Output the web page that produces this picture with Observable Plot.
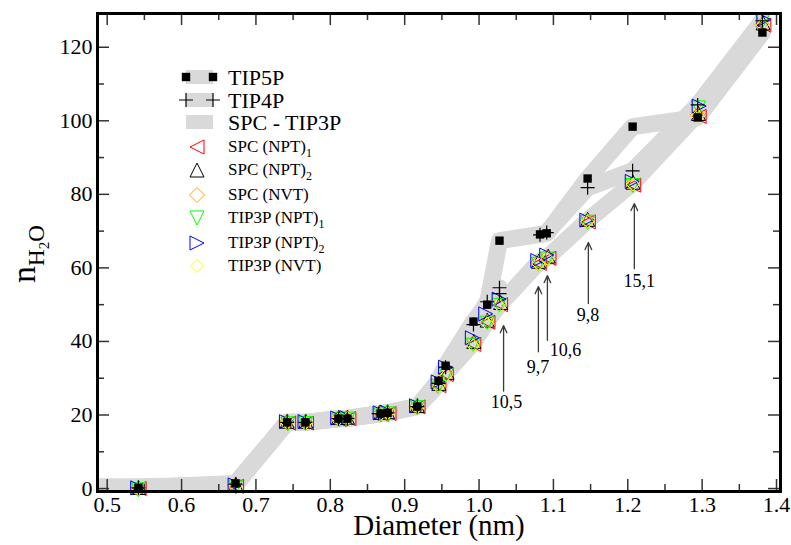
<!DOCTYPE html>
<html>
<head>
<meta charset="utf-8">
<script src="https://cdn.jsdelivr.net/npm/d3@7"></script>
<script src="https://cdn.jsdelivr.net/npm/@observablehq/plot@0.6"></script>
<style>
  body { margin: 0; background: #fff; }
  #chart svg { display: block; }
</style>
</head>
<body>
<div id="chart"></div>
<script>
// ---- Cluster diameters (nm) and water counts ----
// SPC - TIP3P reference band
const bandD = [0.48, 0.542, 0.6725, 0.742, 0.7665, 0.811, 0.823, 0.8675, 0.877, 0.917, 0.9455, 0.955, 0.9925, 1.011, 1.0275, 1.080, 1.092, 1.146, 1.2065, 1.294, 1.381];
const bandN = [0.5, 0.5, 1.0, 18.0, 18.0, 19.0, 19.2, 20.3, 20.6, 22.3, 28.3, 31.3, 39.7, 45.5, 50.0, 61.5, 62.8, 72.9, 83.0, 101.9, 126.5];

// TIP5P
const tip5pD = [0.542, 0.6725, 0.742, 0.7665, 0.811, 0.823, 0.8675, 0.877, 0.917, 0.9455, 0.955, 0.9925, 1.011, 1.0275, 1.082, 1.091, 1.146, 1.2065, 1.294, 1.381];
const tip5pN = [0.2, 1.4, 18.0, 18.0, 19.0, 19.0, 20.4, 20.6, 22.3, 29.3, 33.4, 45.4, 50.0, 67.4, 69.1, 69.4, 84.3, 98.4, 100.9, 124.0];

// TIP4P
const tip4pD = [0.542, 0.6725, 0.742, 0.7665, 0.811, 0.823, 0.865, 0.877, 0.917, 0.9455, 0.955, 0.9925, 1.011, 1.0275, 1.0275, 1.082, 1.091, 1.146, 1.2065, 1.294, 1.381];
const tip4pN = [0.2, 1.2, 18.0, 18.0, 19.0, 19.0, 20.4, 20.6, 22.3, 28.6, 33.0, 44.6, 50.8, 53.0, 54.6, 69.0, 69.6, 81.8, 86.4, 104.3, 127.2];

// SPC (NPT)1
const spcNpt1D = [0.543, 0.674, 0.744, 0.768, 0.812, 0.825, 0.869, 0.879, 0.918, 0.946, 0.956, 0.993, 1.012, 1.029, 1.081, 1.094, 1.147, 1.208, 1.296, 1.383];
const spcNpt1N = [0.0, 0.6, 17.8, 17.8, 18.8, 19.0, 20.2, 20.4, 22.2, 28.0, 31.0, 39.2, 45.2, 50.0, 61.2, 62.6, 72.5, 82.5, 101.2, 126.0];
// SPC (NPT)2
const spcNpt2D = [0.542, 0.673, 0.742, 0.767, 0.811, 0.823, 0.868, 0.877, 0.917, 0.946, 0.957, 0.993, 1.011, 1.029, 1.080, 1.093, 1.146, 1.207, 1.295, 1.382];
const spcNpt2N = [0.3, 1.2, 18.3, 18.3, 19.3, 19.4, 20.7, 20.9, 22.6, 28.6, 31.6, 40.0, 45.8, 50.6, 61.8, 63.2, 73.2, 83.3, 102.0, 126.6];
// SPC (NVT)
const spcNvtD = [0.541, 0.672, 0.741, 0.766, 0.810, 0.822, 0.867, 0.876, 0.916, 0.944, 0.955, 0.991, 1.010, 1.026, 1.079, 1.091, 1.145, 1.206, 1.294, 1.380];
const spcNvtN = [0.0, 0.8, 18.0, 18.0, 19.0, 19.2, 20.4, 20.6, 22.3, 28.2, 31.2, 39.4, 45.3, 50.2, 61.4, 62.8, 72.8, 82.8, 101.6, 126.2];
// TIP3P (NPT)1
const tip3pNpt1D = [0.542, 0.673, 0.743, 0.767, 0.812, 0.824, 0.868, 0.878, 0.917, 0.945, 0.956, 0.992, 1.011, 1.027, 1.080, 1.092, 1.146, 1.207, 1.295, 1.381];
const tip3pNpt1N = [-0.3, 0.4, 17.6, 17.7, 18.7, 18.9, 20.0, 20.3, 22.0, 27.8, 31.0, 39.0, 45.0, 49.8, 61.0, 62.4, 72.4, 82.4, 103.5, 127.0];
// TIP3P (NPT)2
const tip3pNpt2D = [0.541, 0.672, 0.741, 0.766, 0.810, 0.822, 0.867, 0.876, 0.916, 0.945, 0.955, 0.991, 1.009, 1.027, 1.079, 1.091, 1.145, 1.206, 1.296, 1.383];
const tip3pNpt2N = [0.2, 1.0, 18.2, 18.2, 19.2, 19.3, 20.6, 20.8, 22.5, 29.0, 33.0, 41.0, 47.5, 51.5, 62.0, 63.5, 73.0, 83.5, 104.0, 127.5];
// TIP3P (NVT)
const tip3pNvtD = [0.542, 0.673, 0.742, 0.767, 0.811, 0.823, 0.868, 0.877, 0.917, 0.946, 0.956, 0.992, 1.011, 1.028, 1.080, 1.092, 1.146, 1.207, 1.294, 1.381];
const tip3pNvtN = [0.0, 0.7, 17.9, 17.9, 18.9, 19.1, 20.3, 20.5, 22.2, 27.9, 30.8, 38.8, 44.8, 49.6, 61.0, 62.5, 72.6, 82.7, 101.3, 126.0];

// Annotated clusters
const annotLabels = ["10,5", "9,7", "10,6", "9,8", "15,1"];
const arrowD = [1.033, 1.0798, 1.0919, 1.147, 1.2088];
const arrowTip = [44.3, 54.9, 57.9, 66.9, 77.5];
const arrowTail = [26.5, 37.2, 40.3, 50.3, 59.8];
const labelD = [1.0369, 1.0793, 1.1162, 1.1465, 1.2153];
const labelN = [23.5, 32.9, 37.5, 47.0, 56.3];

// Axis ticks
const xMajor = [0.5, 0.6, 0.7, 0.8, 0.9, 1.0, 1.1, 1.2, 1.3, 1.4];
const xMinor = [0.55, 0.65, 0.75, 0.85, 0.95, 1.05, 1.15, 1.25, 1.35];
const yMajor = [0, 20, 40, 60, 80, 100, 120];
const yMinor = [10, 30, 50, 70, 90, 110];

// ---- Marker shapes ----
const rad = size => Math.sqrt(size / Math.PI);
const triangleLeft  = {draw(c, z) { const s = rad(z); c.moveTo(-s, 0); c.lineTo(s, -s); c.lineTo(s, s); c.closePath(); }};
const triangleRight = {draw(c, z) { const s = rad(z); c.moveTo(s, 0); c.lineTo(-s, -s); c.lineTo(-s, s); c.closePath(); }};
const triangleUp    = {draw(c, z) { const s = rad(z); c.moveTo(0, -s); c.lineTo(s, s); c.lineTo(-s, s); c.closePath(); }};
const triangleDown  = {draw(c, z) { const s = rad(z); c.moveTo(0, s); c.lineTo(s, -s); c.lineTo(-s, -s); c.closePath(); }};
const diamond       = {draw(c, z) { const s = rad(z); c.moveTo(0, -s); c.lineTo(s, 0); c.lineTo(0, s); c.lineTo(-s, 0); c.closePath(); }};
const square        = {draw(c, z) { const s = rad(z); c.rect(-s, -s, 2 * s, 2 * s); }};
const plus          = {draw(c, z) { const s = rad(z); c.moveTo(-s, 0); c.lineTo(s, 0); c.moveTo(0, -s); c.lineTo(0, s); }};

const rows = (ds, ns) => ds.map((d, i) => ({d, n: ns[i]}));

const coloured = [
  {name: "SPC (NPT)", sub: "1", color: "#ff0000", symbol: triangleLeft, r: 7, data: rows(spcNpt1D, spcNpt1N)},
  {name: "SPC (NPT)", sub: "2", color: "#000000", symbol: triangleUp, r: 7, data: rows(spcNpt2D, spcNpt2N)},
  {name: "SPC (NVT)", sub: "", color: "#ffa500", symbol: diamond, r: 7.5, data: rows(spcNvtD, spcNvtN)},
  {name: "TIP3P (NPT)", sub: "1", color: "#00ff00", symbol: triangleDown, r: 7, data: rows(tip3pNpt1D, tip3pNpt1N)},
  {name: "TIP3P (NPT)", sub: "2", color: "#0000ff", symbol: triangleRight, r: 7, data: rows(tip3pNpt2D, tip3pNpt2N)},
  {name: "TIP3P (NVT)", sub: "", color: "#ffff00", symbol: diamond, r: 6.5, data: rows(tip3pNvtD, tip3pNvtN)}
];

const band = rows(bandD, bandN);
const tip5p = rows(tip5pD, tip5pN);
const tip4p = rows(tip4pD, tip4pN);
const annots = annotLabels.map((label, i) => ({label, x: arrowD[i], tip: arrowTip[i], tail: arrowTail[i], lx: labelD[i], ly: labelN[i]}));

const W = 791, H = 545;
const mTop = 13, mBottom = 54, mLeft = 97, mRight = 11;
const innerH = H - mTop - mBottom;
const innerW = W - mLeft - mRight;
const serif = "'Liberation Serif', 'Times New Roman', serif";
const grey = "#d9d9d9";
const bandWidth = 17;
const tickCol = "#333";

const chart = Plot.plot({
  width: W,
  height: H,
  marginTop: mTop,
  marginBottom: mBottom,
  marginLeft: mLeft,
  marginRight: mRight,
  style: {fontFamily: serif, background: "#fff", color: "#000"},
  x: {domain: [0.48696, 1.40535]},
  y: {domain: [-0.8, 129.17]},
  marks: [
    // thick grey guide bands
    Plot.line(band, {x: "d", y: "n", stroke: grey, strokeWidth: bandWidth, strokeLinejoin: "round", clip: "frame"}),
    Plot.line(tip5p, {x: "d", y: "n", stroke: grey, strokeWidth: bandWidth, strokeLinejoin: "round", clip: "frame"}),
    Plot.line(tip4p.slice(0, 15), {x: "d", y: "n", stroke: grey, strokeWidth: bandWidth, strokeLinejoin: "round", clip: "frame"}),
    Plot.line(tip4p.slice(15), {x: "d", y: "n", stroke: grey, strokeWidth: bandWidth, strokeLinejoin: "round", clip: "frame"}),
    // SPC / TIP3P runs
    ...coloured.map(s => Plot.dot(s.data, {x: "d", y: "n", symbol: s.symbol, r: s.r, fill: "none", stroke: s.color, strokeWidth: 1})),
    // TIP5P and TIP4P
    Plot.dot(tip5p, {x: "d", y: "n", symbol: square, r: 4.2, fill: "#000", stroke: "none"}),
    Plot.dot(tip4p, {x: "d", y: "n", symbol: plus, r: 7, fill: "none", stroke: "#000", strokeWidth: 1.2}),
    // cluster annotations
    Plot.arrow(annots, {x1: "x", y1: "tail", x2: "x", y2: "tip", stroke: "#3a3a3a", strokeWidth: 1.3, headLength: 9, headAngle: 50}),
    Plot.text(annots, {x: "lx", y: "ly", text: "label", fontSize: 18, fontFamily: serif, fill: "#000"}),
    // inward ticks on all four sides
    Plot.tickX(xMajor, {insetTop: innerH - 12, stroke: tickCol, strokeWidth: 1.5}),
    Plot.tickX(xMajor, {insetBottom: innerH - 12, stroke: tickCol, strokeWidth: 1.5}),
    Plot.tickX(xMinor, {insetTop: innerH - 7, stroke: tickCol, strokeWidth: 1.5}),
    Plot.tickX(xMinor, {insetBottom: innerH - 7, stroke: tickCol, strokeWidth: 1.5}),
    Plot.tickY(yMajor, {insetRight: innerW - 12, stroke: tickCol, strokeWidth: 1.5}),
    Plot.tickY(yMajor, {insetLeft: innerW - 12, stroke: tickCol, strokeWidth: 1.5}),
    Plot.tickY(yMinor, {insetRight: innerW - 7, stroke: tickCol, strokeWidth: 1.5}),
    Plot.tickY(yMinor, {insetLeft: innerW - 7, stroke: tickCol, strokeWidth: 1.5}),
    // tick labels
    Plot.axisX({ticks: xMajor, tickSize: 0, tickPadding: 5, tickFormat: d => d.toFixed(1), fontSize: 22, label: null}),
    Plot.axisY({ticks: yMajor, tickSize: 0, tickPadding: 5, tickFormat: d => String(d), fontSize: 22, label: null}),
    Plot.text(["Diameter (nm)"], {frameAnchor: "bottom", dy: 43, fontSize: 29, fontFamily: serif, fill: "#000"}),
    Plot.frame({stroke: "#000", strokeWidth: 3})
  ]
});

document.getElementById("chart").appendChild(chart);

const svg = d3.select(chart);

// y-axis title: n with subscript H2O
const yt = svg.append("text")
  .attr("transform", "translate(35,254) rotate(-90)")
  .attr("text-anchor", "middle")
  .attr("font-family", serif)
  .attr("fill", "#000");
yt.append("tspan").attr("font-size", 34).text("n");
yt.append("tspan").attr("font-size", 23).attr("dy", 9).text("H");
yt.append("tspan").attr("font-size", 15).attr("dy", 5).text("2");
yt.append("tspan").attr("font-size", 23).attr("dy", -5).text("O");

// legend
const lg = svg.append("g")
  .attr("font-family", serif)
  .attr("text-anchor", "start")
  .attr("fill", "#000");
const sym = (s, r) => d3.symbol().type(s).size(Math.PI * r * r)();

const bandEntries = [
  {label: "TIP5P", marker: "square", y: 77},
  {label: "TIP4P", marker: "plus", y: 100},
  {label: "SPC - TIP3P", marker: null, y: 122}
];
bandEntries.forEach(e => {
  lg.append("path").attr("d", `M186,${e.y}H213`)
    .attr("fill", "none").attr("stroke", grey).attr("stroke-width", 14);
  [186, 213].forEach(x => {
    if (e.marker === "square") {
      lg.append("path").attr("d", sym(square, 4.2)).attr("transform", `translate(${x},${e.y})`).attr("fill", "#000");
    } else if (e.marker === "plus") {
      lg.append("path").attr("d", sym(plus, 7)).attr("transform", `translate(${x},${e.y})`)
        .attr("fill", "none").attr("stroke", "#000").attr("stroke-width", 1.2);
    }
  });
  lg.append("text").attr("x", 228).attr("y", e.y + 8).attr("font-size", 22).text(e.label);
});

const smallY = [147, 170, 195, 218, 243, 266];
coloured.forEach((s, i) => {
  const y = smallY[i];
  lg.append("path").attr("d", sym(s.symbol, s.r)).attr("transform", `translate(197,${y})`)
    .attr("fill", "none").attr("stroke", s.color).attr("stroke-width", 1);
  const t = lg.append("text").attr("x", 228).attr("y", y + 5).attr("font-size", 17);
  t.append("tspan").text(s.name);
  if (s.sub) t.append("tspan").attr("font-size", 12).attr("dy", 5).text(s.sub);
});
</script>
</body>
</html>
